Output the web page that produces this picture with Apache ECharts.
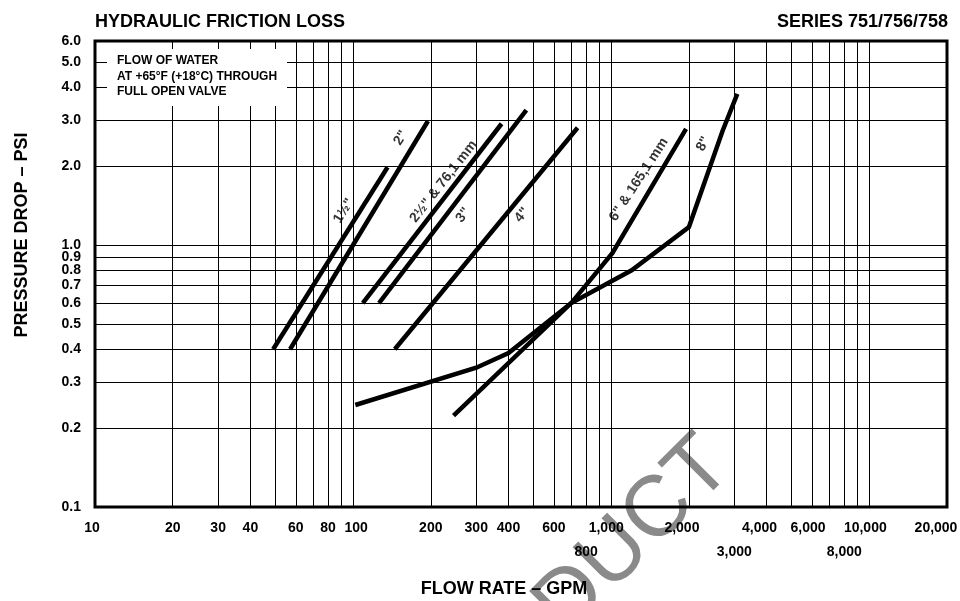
<!DOCTYPE html>
<html><head><meta charset="utf-8">
<script src="https://cdn.jsdelivr.net/npm/echarts@6/dist/echarts.min.js"></script>
<style>html,body{margin:0;padding:0;background:#fff}#c{width:960px;height:601px}</style>
</head><body><div id="c"></div>
<script>
// ---------- DATA ----------
// Flow rate (GPM) / pressure drop (PSI) per valve size
const size_1_5 = [[49, 0.4], [136, 1.98]];
const size_2   = [[57, 0.4], [195, 2.97]];
const size_2_5 = [[109, 0.6], [376, 2.9]];
const size_3   = [[126, 0.6], [469, 3.27]];
const size_4   = [[145, 0.4], [741, 2.8]];
const size_6   = [[245, 0.223], [700, 0.6], [1010, 0.93], [1950, 2.77]];
const size_8   = [[102, 0.245], [300, 0.34], [400, 0.387], [700, 0.6], [1200, 0.8], [2000, 1.17], [2700, 2.72], [3080, 3.77]];

// Curve labels
const curveLabels = ['1½"', '2"', '2½" & 76,1 mm', '3"', '4"', '6" & 165,1 mm', '8"'];
const curveLabelFlow = [92, 153, 224, 267, 451, 1279, 2275];
const curveLabelPsi = [1.35, 2.56, 1.745, 1.30, 1.30, 1.776, 2.43];
const curveLabelAngle = [58, 58, 52, 52, 50, 57, 62];

// Grid lines
const xGridValues = [20,30,40,50,60,70,80,90,100,200,300,400,500,600,700,800,900,1000,2000,3000,4000,5000,6000,7000,8000,9000,10000];
const yGridValues = [0.2,0.3,0.4,0.5,0.6,0.7,0.8,0.9,1,2,3,4,5];

// Tick labels
const xTickValues = [10,20,30,40,60,80,100,200,300,400,600,800,1000,2000,3000,4000,6000,8000,10000,20000];
const xTickTexts  = ['10','20','30','40','60','80','100','200','300','400','600','800','1,000','2,000','3,000','4,000','6,000','8,000','10,000','20,000'];
const xTickRow    = [1,1,1,1,1,1,1,1,1,1,1,2,1,1,2,1,1,2,1,1];
const xTickShift  = [-3,0,0,0,0,0,3,0,0,0,0,0,-5,-7,0,-7,-4,0,-4,-11];
const yTickValues = [0.1,0.2,0.3,0.4,0.5,0.6,0.7,0.8,0.9,1,2,3,4,5,6];
const yTickTexts  = ['0.1','0.2','0.3','0.4','0.5','0.6','0.7','0.8','0.9','1.0','2.0','3.0','4.0','5.0','6.0'];

// ---------- CHART ----------
const FONT = "'Liberation Sans', Arial, Helvetica, sans-serif";
const chart = echarts.init(document.getElementById('c'), null, {renderer: 'canvas'});

const tickFont = {color: '#000', fontFamily: FONT, fontWeight: 'bold', fontSize: 14};
const hidden = 'rgba(0,0,0,0)';

const gridLineData = []
  .concat(xGridValues.map(v => ({xAxis: v})))
  .concat(yGridValues.map(v => ({yAxis: v})))
  .concat(xTickValues.map((v, i) => ({
    xAxis: v, lineStyle: {color: hidden},
    label: Object.assign({show: true, position: 'start', formatter: xTickTexts[i],
      distance: xTickRow[i] === 1 ? 14 : 38, offset: [xTickShift[i], 0]}, tickFont)
  })))
  .concat(yTickValues.map((v, i) => ({
    yAxis: v, lineStyle: {color: hidden},
    label: Object.assign({show: true, position: 'start', formatter: yTickTexts[i], distance: 14}, tickFont)
  })));

function curve(name, data) {
  return {
    name, type: 'line', data, z: 3, symbol: 'none', showSymbol: false,
    lineStyle: {color: '#000', width: 4.5, cap: 'butt', join: 'miter'},
    emphasis: {disabled: true}, silent: true
  };
}

const option = {
  animation: false,
  backgroundColor: '#fff',
  grid: {left: 95, right: 13, top: 41, bottom: 94, show: true, borderColor: '#000', borderWidth: 3, backgroundColor: 'rgba(0,0,0,0)'},
  xAxis: {type: 'log', logBase: 10, min: 10, max: 20000,
    axisLine: {show: false}, axisTick: {show: false}, axisLabel: {show: false}, splitLine: {show: false}},
  yAxis: {type: 'log', logBase: 10, min: 0.1, max: 6,
    axisLine: {show: false}, axisTick: {show: false}, axisLabel: {show: false}, splitLine: {show: false}},
  series: [
    {
      name: 'grid', type: 'line', data: [], z: 1, silent: true,
      markLine: {
        silent: true, symbol: ['none', 'none'], animation: false,
        lineStyle: {color: '#000', width: 1, type: 'solid'},
        label: {show: false},
        emphasis: {disabled: true},
        data: gridLineData
      }
    },
    curve('1½"', size_1_5),
    curve('2"', size_2),
    curve('2½" & 76,1 mm', size_2_5),
    curve('3"', size_3),
    curve('4"', size_4),
    curve('6" & 165,1 mm', size_6),
    curve('8"', size_8),
    {
      name: 'labels', type: 'scatter', z: 4, symbolSize: 0, silent: true,
      data: curveLabelFlow.map((x, i) => ({
        value: [x, curveLabelPsi[i]],
        label: {show: true, position: 'inside', rotate: curveLabelAngle[i], formatter: curveLabels[i],
          color: '#000', fontFamily: FONT, fontWeight: 'bold', fontSize: 14}
      }))
    }
  ],
  graphic: [
    {type: 'text', z: -5, x: 718, y: 452, rotation: Math.PI / 4,
      style: {text: 'DUCT', fill: '#8a8a8a', font: "86px 'Liberation Sans', Arial, sans-serif", align: 'right', verticalAlign: 'middle'}},
    {type: 'text', z: 10, x: 95, y: 22,
      style: {text: 'HYDRAULIC FRICTION LOSS', fill: '#000', font: "bold 18px 'Liberation Sans', Arial, sans-serif", align: 'left', verticalAlign: 'middle'}},
    {type: 'text', z: 10, x: 948, y: 22,
      style: {text: 'SERIES 751/756/758', fill: '#000', font: "bold 18px 'Liberation Sans', Arial, sans-serif", align: 'right', verticalAlign: 'middle'}},
    {type: 'rect', z: 10, shape: {x: 107, y: 49, width: 180, height: 57}, style: {fill: '#fff'}},
    {type: 'text', z: 11, x: 117, y: 53,
      style: {text: 'FLOW OF WATER\nAT +65°F (+18°C) THROUGH\nFULL OPEN VALVE', fill: '#000', lineHeight: 15.5,
        font: "bold 12px 'Liberation Sans', Arial, sans-serif", align: 'left', verticalAlign: 'top'}},
    {type: 'text', z: 10, x: 22, y: 235, rotation: Math.PI / 2,
      style: {text: 'PRESSURE DROP – PSI', fill: '#000', font: "bold 18px 'Liberation Sans', Arial, sans-serif", align: 'center', verticalAlign: 'middle'}},
    {type: 'text', z: 10, x: 504, y: 589,
      style: {text: 'FLOW RATE – GPM', fill: '#000', font: "bold 18px 'Liberation Sans', Arial, sans-serif", align: 'center', verticalAlign: 'middle'}}
  ]
};
chart.setOption(option);
</script>
</body></html>
